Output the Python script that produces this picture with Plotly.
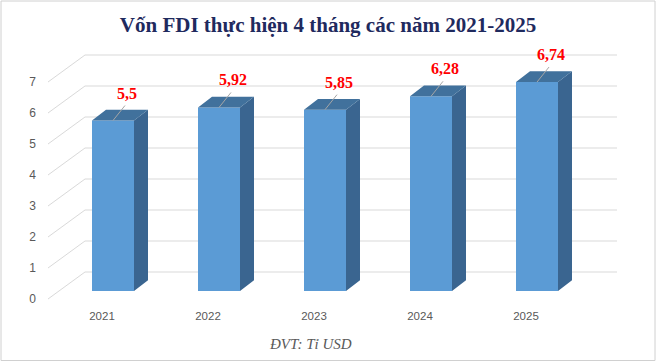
import plotly.graph_objects as go

# ---------------- data ----------------
years = ["2021", "2022", "2023", "2024", "2025"]
values = [5.5, 5.92, 5.85, 6.28, 6.74]
y_ticks = [0, 1, 2, 3, 4, 5, 6, 7]
value_labels = [f"{v:g}".replace(".", ",") for v in values]
title_text = "Vốn FDI thực hiện 4 tháng các năm 2021-2025"
unit_note = "ĐVT: Tỉ USD"

# ---------------- geometry (pixels) ----------------
W, H = 656, 362
ML, MR, MT, MB = 45, 0, 0, 57
CAT_PX = 106.0      # px between categories
UNIT_PX = 31.0      # px per value unit
X0_PX = 113.0       # px of first category centre
Y0_PX = 291.0       # px of value 0 on bar plane


def dx(px):
    return px / CAT_PX


def dy(px):
    return px / UNIT_PX


x_range = [(ML - X0_PX) / CAT_PX, (W - MR - X0_PX) / CAT_PX]
y_range = [(Y0_PX - (H - MB)) / UNIT_PX, (Y0_PX - MT) / UNIT_PX]

xs = list(range(len(years)))
bar_w = dx(42)
side_dx, side_dy = dx(14), dy(10.7)
front_dy = dy(-8)        # front plane (axis labels) relative to bar plane
back_dy = dy(19)         # back wall relative to bar plane
wall_front_x = dx(48 - X0_PX)
wall_back_x = dx(85 - X0_PX)
wall_right_x = dx(617 - X0_PX)

FRONT = "#5B9BD5"
SIDE = "#3A6590"
TOP = "#41719C"
GRID = "#D9D9D9"
TXT = "#595959"

fig = go.Figure()

# front faces
fig.add_trace(go.Bar(
    x=xs, y=values, width=bar_w,
    marker=dict(color=FRONT, line=dict(width=0)),
    hoverinfo="skip", showlegend=False,
))

# side faces
sx, sy = [], []
for x, v in zip(xs, values):
    r = x + bar_w / 2
    sx += [r, r + side_dx, r + side_dx, r, r, None]
    sy += [0, side_dy, v + side_dy, v, 0, None]
fig.add_trace(go.Scatter(
    x=sx, y=sy, mode="lines", fill="toself", fillcolor=SIDE,
    line=dict(width=0, color=SIDE), hoverinfo="skip", showlegend=False,
))

# top faces
tx, ty = [], []
for x, v in zip(xs, values):
    l, r = x - bar_w / 2, x + bar_w / 2
    tx += [l, r, r + side_dx, l + side_dx, l, None]
    ty += [v, v, v + side_dy, v + side_dy, v, None]
fig.add_trace(go.Scatter(
    x=tx, y=ty, mode="lines", fill="toself", fillcolor=TOP,
    line=dict(width=0, color=TOP), hoverinfo="skip", showlegend=False,
))

# leader lines
lx, ly = [], []
for x, v in zip(xs, values):
    lx += [x, x + dx(12), None]
    ly += [v, v + dy(15), None]
fig.add_trace(go.Scatter(
    x=lx, y=ly, mode="lines", line=dict(color="#A6A6A6", width=1),
    hoverinfo="skip", showlegend=False,
))

# data labels
fig.add_trace(go.Scatter(
    x=[x + dx(14) for x in xs], y=[v + dy(26) for v in values],
    mode="text", text=value_labels, textposition="middle center",
    textfont=dict(family="Liberation Serif", size=16, color="#FF0000", weight="bold"),
    hoverinfo="skip", showlegend=False,
))

# walls / gridlines
shapes = []
for k in y_ticks:
    shapes.append(dict(type="line", xref="x", yref="y", layer="below",
                       x0=wall_back_x, x1=wall_right_x, y0=k + back_dy, y1=k + back_dy,
                       line=dict(color=GRID, width=1)))
    shapes.append(dict(type="line", xref="x", yref="y", layer="below",
                       x0=wall_front_x, x1=wall_back_x, y0=k + front_dy, y1=k + back_dy,
                       line=dict(color=GRID, width=1)))

# outer border (paper coords derived from pixels)
pw, ph = W - ML - MR, H - MT - MB


def px_to_paper_x(p):
    return (p - ML) / pw


def px_to_paper_y(q):
    return (H - MB - q) / ph


shapes.append(dict(type="rect", xref="paper", yref="paper", layer="above",
                   x0=px_to_paper_x(1), x1=px_to_paper_x(655),
                   y0=px_to_paper_y(360.5), y1=px_to_paper_y(1),
                   line=dict(color="#D0D0D0", width=1), fillcolor="rgba(0,0,0,0)"))

fig.update_layout(
    width=W, height=H,
    margin=dict(l=ML, r=MR, t=MT, b=MB, pad=0),
    paper_bgcolor="white", plot_bgcolor="white",
    showlegend=False,
    shapes=shapes,
    title=dict(text=title_text, x=0.5, xref="container", xanchor="center",
               y=1 - 25 / H, yref="container", yanchor="middle",
               font=dict(family="Liberation Serif", size=21, color="#1F2A5E", weight="bold")),
    xaxis=dict(range=x_range, showgrid=False, zeroline=False, showline=False,
               tickmode="array", tickvals=[x - dx(11) for x in xs], ticktext=years,
               ticks="", ticklabelstandoff=2,
               tickfont=dict(family="Liberation Sans", size=11.5, color=TXT),
               fixedrange=True),
    yaxis=dict(range=y_range, showgrid=False, zeroline=False, showline=False,
               tickmode="array", tickvals=[k + front_dy for k in y_ticks],
               ticktext=[str(k) for k in y_ticks],
               ticks="", ticklabelstandoff=8,
               tickfont=dict(family="Liberation Sans", size=12, color=TXT),
               fixedrange=True),
    annotations=[dict(text="<i>" + unit_note + "</i>", xref="paper", yref="paper",
                      x=px_to_paper_x(310), y=px_to_paper_y(344),
                      xanchor="center", yanchor="middle", showarrow=False,
                      font=dict(family="Liberation Serif", size=15, color=TXT))],
)

fig.write_html("out.html", config={"displayModeBar": False},
               post_script="document.body.style.margin='0';document.body.style.overflow='hidden';")
